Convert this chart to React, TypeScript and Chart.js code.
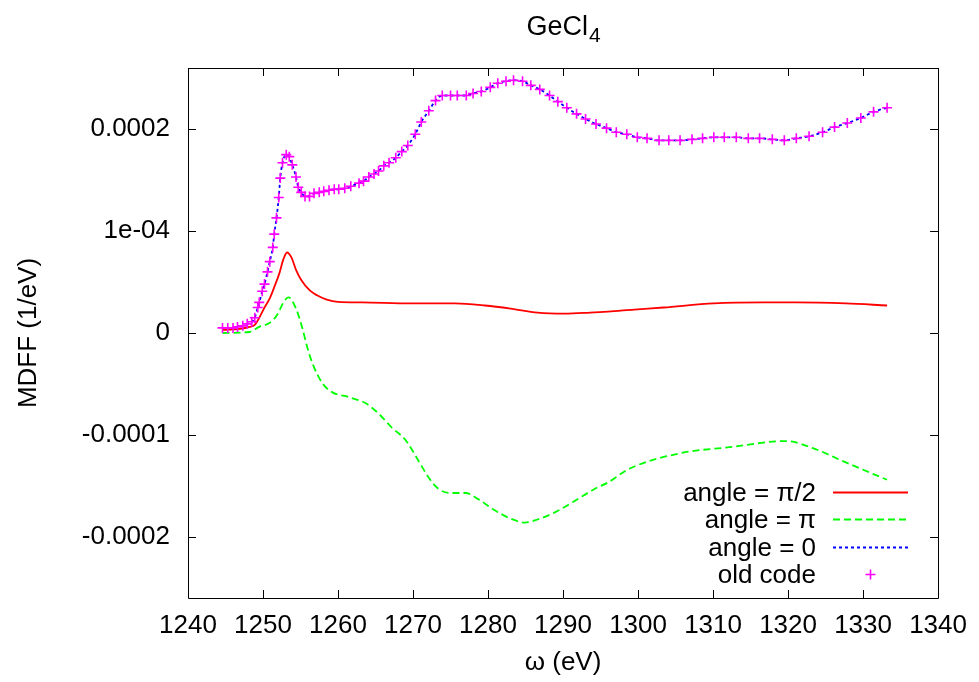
import React, { useEffect, useRef } from "react";
import { Chart, registerables } from "chart.js";

Chart.register(...registerables);

// ---------- text ----------
const TITLE_MAIN = "GeCl";
const TITLE_SUB = "4";
const X_LABEL = "ω (eV)";
const Y_LABEL = "MDFF (1/eV)";

// ---------- axes ----------
const X_MIN = 1240;
const X_MAX = 1340;
const Y_MIN = -0.00026;
const Y_MAX = 0.00026;
const X_TICKS = [1240, 1250, 1260, 1270, 1280, 1290, 1300, 1310, 1320, 1330, 1340];
const Y_TICKS = [-0.0002, -0.0001, 0, 0.0001, 0.0002];
const Y_TICK_LABELS = ["-0.0002", "-0.0001", "0", "1e-04", "0.0002"];

// ---------- series labels ----------
const LABEL_HALFPI = "angle = π/2";
const LABEL_PI = "angle = π";
const LABEL_ZERO = "angle = 0";
const LABEL_OLD = "old code";

// ---------- old code / angle = 0 ----------
const OMEGA_OLD = [
  1244.6, 1245.3, 1246.0, 1246.6, 1247.3, 1247.9, 1248.5, 1248.9, 1249.3, 1249.5,
  1249.9, 1250.2, 1250.6, 1250.9, 1251.3, 1251.5, 1251.8, 1252.1, 1252.3, 1252.6,
  1253.1, 1253.5, 1253.9, 1254.4, 1254.7, 1255.1, 1255.6, 1256.2, 1256.8, 1257.5,
  1258.1, 1258.8, 1259.5, 1260.1, 1260.9, 1261.7, 1262.8, 1263.4, 1264.1, 1264.8,
  1265.4, 1266.1, 1266.8, 1267.7, 1268.5, 1269.3, 1270.3, 1271.1, 1272.1, 1273.0,
  1273.9, 1275.0, 1275.9, 1277.1, 1278.0, 1279.1, 1280.3, 1281.3, 1282.4, 1283.4,
  1284.6, 1285.7, 1286.9, 1288.2, 1289.3, 1290.5, 1291.8, 1293.0, 1294.4, 1295.8,
  1297.1, 1298.5, 1299.9, 1301.2, 1302.8, 1304.1, 1305.6, 1307.2, 1308.6, 1310.1,
  1311.5, 1313.1, 1314.7, 1316.2, 1317.9, 1319.5, 1321.1, 1322.8, 1324.6, 1326.2,
  1327.9, 1329.7, 1331.4, 1333.2,
];
const MDFF_OLD = [
  0.5e-5, 0.5e-5, 0.5e-5, 0.6e-5, 0.7e-5, 0.9e-5, 1.1e-5, 1.5e-5, 2.5e-5, 3.0e-5,
  4.1e-5, 4.8e-5, 6.0e-5, 7.0e-5, 8.4e-5, 9.7e-5, 11.3e-5, 13.3e-5, 15.2e-5, 16.7e-5,
  17.5e-5, 17.3e-5, 16.5e-5, 15.3e-5, 14.3e-5, 13.8e-5, 13.4e-5, 13.4e-5, 13.7e-5, 13.8e-5,
  13.9e-5, 14.0e-5, 14.1e-5, 14.1e-5, 14.2e-5, 14.4e-5, 14.7e-5, 14.9e-5, 15.3e-5, 15.6e-5,
  15.9e-5, 16.4e-5, 16.7e-5, 17.2e-5, 17.8e-5, 18.4e-5, 19.5e-5, 20.7e-5, 21.8e-5, 22.8e-5,
  23.3e-5, 23.3e-5, 23.3e-5, 23.3e-5, 23.5e-5, 23.7e-5, 24.1e-5, 24.5e-5, 24.7e-5, 24.8e-5,
  24.7e-5, 24.3e-5, 23.9e-5, 23.3e-5, 22.7e-5, 22.1e-5, 21.5e-5, 21.0e-5, 20.5e-5, 20.1e-5,
  19.7e-5, 19.5e-5, 19.2e-5, 19.1e-5, 18.9e-5, 18.9e-5, 18.9e-5, 19.0e-5, 19.1e-5, 19.2e-5,
  19.2e-5, 19.2e-5, 19.1e-5, 19.1e-5, 19.0e-5, 18.9e-5, 19.1e-5, 19.3e-5, 19.7e-5, 20.2e-5,
  20.6e-5, 21.1e-5, 21.7e-5, 22.1e-5,
];

// ---------- angle = pi/2 ----------
const OMEGA_HALFPI = [
  1244.6, 1246.0, 1246.9, 1248.2, 1248.9, 1249.5, 1250.2, 1250.9, 1251.5, 1252.2,
  1252.7, 1253.2, 1253.8, 1254.4, 1255.1, 1256.2, 1257.2, 1258.4, 1260.0, 1263.2,
  1269.8, 1275.6, 1279.6, 1283.0, 1286.6, 1290.2, 1293.6, 1296.0, 1299.5, 1303.4,
  1310.1, 1316.7, 1321.1, 1327.7, 1333.2,
];
const MDFF_HALFPI = [
  0.3e-5, 0.35e-5, 0.4e-5, 0.6e-5, 0.8e-5, 1.5e-5, 2.5e-5, 3.4e-5, 4.5e-5, 5.9e-5,
  7.2e-5, 7.9e-5, 7.4e-5, 6.2e-5, 5.2e-5, 4.2e-5, 3.7e-5, 3.3e-5, 3.05e-5, 3.0e-5,
  2.9e-5, 2.9e-5, 2.7e-5, 2.4e-5, 2.0e-5, 1.9e-5, 2.0e-5, 2.1e-5, 2.3e-5, 2.5e-5,
  2.9e-5, 3.0e-5, 3.0e-5, 2.9e-5, 2.7e-5,
];

// ---------- angle = pi ----------
const OMEGA_PI = [
  1244.6, 1248.2, 1249.5, 1250.9, 1251.9, 1252.8, 1253.4, 1254.4, 1255.2, 1255.9,
  1256.6, 1257.9, 1259.2, 1261.5, 1263.7, 1265.4, 1267.2, 1269.0, 1270.7, 1272.1,
  1273.4, 1275.1, 1277.0, 1278.7, 1280.9, 1283.0, 1284.9, 1286.6, 1288.9, 1291.5,
  1294.2, 1295.9, 1298.9, 1305.6, 1312.2, 1319.7, 1323.3, 1327.7, 1333.2,
];
const MDFF_PI = [
  0.0e-5, 0.1e-5, 0.6e-5, 1.0e-5, 1.8e-5, 3.1e-5, 3.5e-5, 2.4e-5, 0.6e-5, -1.4e-5,
  -3.0e-5, -4.9e-5, -5.8e-5, -6.3e-5, -6.9e-5, -7.9e-5, -9.3e-5, -10.5e-5, -12.5e-5, -14.2e-5,
  -15.3e-5, -15.7e-5, -15.7e-5, -16.3e-5, -17.4e-5, -18.2e-5, -18.6e-5, -18.3e-5, -17.6e-5, -16.5e-5,
  -15.3e-5, -14.7e-5, -13.3e-5, -11.8e-5, -11.2e-5, -10.6e-5, -11.3e-5, -12.7e-5, -14.4e-5,
];

// ---------- style ----------
const FONT = "'Liberation Sans', Arial, Helvetica, sans-serif";
const FONT_SIZE = 26;
const W = 979;
const H = 682;

const toXY = (xs: number[], ys: number[]) => xs.map((x, i) => ({ x, y: ys[i] }));

const framePlugin = {
  id: "gnuFrame",
  beforeDatasetsDraw(chart: any) {
    const { ctx, chartArea } = chart;
    const { left, right, top, bottom } = chartArea;
    const xs = chart.scales.x;
    const ys = chart.scales.y;
    const TL = 8;
    ctx.save();
    ctx.strokeStyle = "#000";
    ctx.lineWidth = 1;
    ctx.beginPath();
    ctx.rect(Math.round(left) + 0.5, Math.round(top) + 0.5, Math.round(right - left), Math.round(bottom - top));
    ctx.stroke();
    ctx.beginPath();
    X_TICKS.forEach((v) => {
      const px = Math.round(xs.getPixelForValue(v)) + 0.5;
      ctx.moveTo(px, bottom);
      ctx.lineTo(px, bottom - TL);
      ctx.moveTo(px, top);
      ctx.lineTo(px, top + TL);
    });
    Y_TICKS.forEach((v) => {
      const py = Math.round(ys.getPixelForValue(v)) + 0.5;
      ctx.moveTo(left, py);
      ctx.lineTo(left + TL, py);
      ctx.moveTo(right, py);
      ctx.lineTo(right - TL, py);
    });
    ctx.stroke();
    ctx.restore();
  },
};

const titlePlugin = {
  id: "gnuTitle",
  afterDraw(chart: any) {
    const { ctx, chartArea } = chart;
    const cx = (chartArea.left + chartArea.right) / 2;
    ctx.save();
    ctx.fillStyle = "#000";
    ctx.textBaseline = "alphabetic";
    ctx.textAlign = "left";
    const mainFont = `27px ${FONT}`;
    const subFont = `21px ${FONT}`;
    ctx.font = mainFont;
    const w1 = ctx.measureText(TITLE_MAIN).width;
    ctx.font = subFont;
    const w2 = ctx.measureText(TITLE_SUB).width;
    const x0 = cx - (w1 + w2) / 2;
    ctx.font = mainFont;
    ctx.fillText(TITLE_MAIN, x0, 35);
    ctx.font = subFont;
    ctx.fillText(TITLE_SUB, x0 + w1 + 1, 42);
    ctx.restore();
  },
};

const LEGEND_ORDER = [0, 1, 2, 3];

const legendPlugin = {
  id: "gnuLegend",
  afterDraw(chart: any) {
    const ctx = chart.ctx;
    const textRight = 816;
    const lineL = 833;
    const lineR = 908;
    const y0 = 492;
    const dy = 27.4;
    ctx.save();
    ctx.font = `${FONT_SIZE}px ${FONT}`;
    ctx.textAlign = "right";
    ctx.textBaseline = "middle";
    LEGEND_ORDER.forEach((di, i) => {
      const ds: any = chart.data.datasets[di];
      const y = Math.round(y0 + i * dy) + 0.5;
      ctx.fillStyle = "#000";
      ctx.fillText(ds.label, textRight, y + 1);
      if (ds.showLine === false) {
        const cxp = (lineL + lineR) / 2;
        const r = ds.pointRadius;
        ctx.strokeStyle = ds.pointBorderColor;
        ctx.lineWidth = ds.pointBorderWidth;
        ctx.setLineDash([]);
        ctx.beginPath();
        ctx.moveTo(cxp - r, y);
        ctx.lineTo(cxp + r, y);
        ctx.moveTo(cxp, y - r);
        ctx.lineTo(cxp, y + r);
        ctx.stroke();
      } else {
        ctx.strokeStyle = ds.borderColor;
        ctx.lineWidth = ds.borderWidth;
        ctx.setLineDash(ds.borderDash || []);
        ctx.beginPath();
        ctx.moveTo(lineL, y);
        ctx.lineTo(lineR, y);
        ctx.stroke();
      }
    });
    ctx.restore();
  },
};

export default function App() {
  const ref = useRef<HTMLCanvasElement | null>(null);

  useEffect(() => {
    if (!ref.current) return;
    const chart = new Chart(ref.current, {
      type: "line",
      data: {
        datasets: [
          {
            label: LABEL_HALFPI,
            data: toXY(OMEGA_HALFPI, MDFF_HALFPI),
            borderColor: "#ff0000",
            borderWidth: 1.8,
            pointRadius: 0,
            cubicInterpolationMode: "monotone",
            fill: false,
            order: 3,
          },
          {
            label: LABEL_PI,
            data: toXY(OMEGA_PI, MDFF_PI),
            borderColor: "#00ff00",
            borderWidth: 1.8,
            borderDash: [7, 4],
            pointRadius: 0,
            cubicInterpolationMode: "monotone",
            fill: false,
            order: 2,
          },
          {
            label: LABEL_ZERO,
            data: toXY(OMEGA_OLD, MDFF_OLD),
            borderColor: "#0000ff",
            borderWidth: 1.8,
            borderDash: [3, 3],
            pointRadius: 0,
            cubicInterpolationMode: "monotone",
            fill: false,
            order: 1,
          },
          {
            label: LABEL_OLD,
            data: toXY(OMEGA_OLD, MDFF_OLD),
            showLine: false,
            pointStyle: "cross",
            pointRadius: 5,
            pointBorderWidth: 1.6,
            pointBorderColor: "#ff00ff",
            pointBackgroundColor: "#ff00ff",
            borderColor: "#ff00ff",
            order: 0,
          } as any,
        ],
      },
      options: {
        animation: false,
        responsive: false,
        devicePixelRatio: 1,
        events: [],
        layout: { padding: { top: 68, right: 36, bottom: 0, left: 0 } },
        plugins: {
          legend: { display: false },
          title: { display: false },
          tooltip: { enabled: false },
        },
        scales: {
          x: {
            type: "linear",
            min: X_MIN,
            max: X_MAX,
            grid: { display: false, drawTicks: false },
            border: { display: false },
            afterBuildTicks: (s: any) => {
              s.ticks = X_TICKS.map((v) => ({ value: v }));
            },
            afterFit: (s: any) => {
              s.height = 84;
            },
            ticks: {
              padding: 12,
              color: "#000",
              font: { family: FONT, size: FONT_SIZE },
              maxRotation: 0,
              autoSkip: false,
              callback: (v: any) => String(v),
            },
            title: {
              display: true,
              text: X_LABEL,
              color: "#000",
              font: { family: FONT, size: FONT_SIZE },
              padding: { top: 0, bottom: 4 },
            },
          },
          y: {
            type: "linear",
            min: Y_MIN,
            max: Y_MAX,
            grid: { display: false, drawTicks: false },
            border: { display: false },
            afterBuildTicks: (s: any) => {
              s.ticks = Y_TICKS.map((v) => ({ value: v }));
            },
            afterFit: (s: any) => {
              s.width = 188;
            },
            ticks: {
              padding: 18,
              color: "#000",
              font: { family: FONT, size: FONT_SIZE },
              autoSkip: false,
              callback: (v: any) => {
                const idx = Y_TICKS.findIndex((t) => Math.abs(t - v) < 1e-9);
                return idx >= 0 ? Y_TICK_LABELS[idx] : "";
              },
            },
            title: {
              display: true,
              text: Y_LABEL,
              color: "#000",
              font: { family: FONT, size: FONT_SIZE },
              padding: { top: 13, bottom: 0 },
            },
          },
        },
      },
      plugins: [framePlugin, titlePlugin, legendPlugin],
    } as any);
    return () => chart.destroy();
  }, []);

  return (
    <div style={{ position: "absolute", left: 0, top: 0, width: W, height: H, background: "#fff" }}>
      <canvas ref={ref} width={W} height={H} style={{ display: "block", width: W, height: H }} />
    </div>
  );
}
